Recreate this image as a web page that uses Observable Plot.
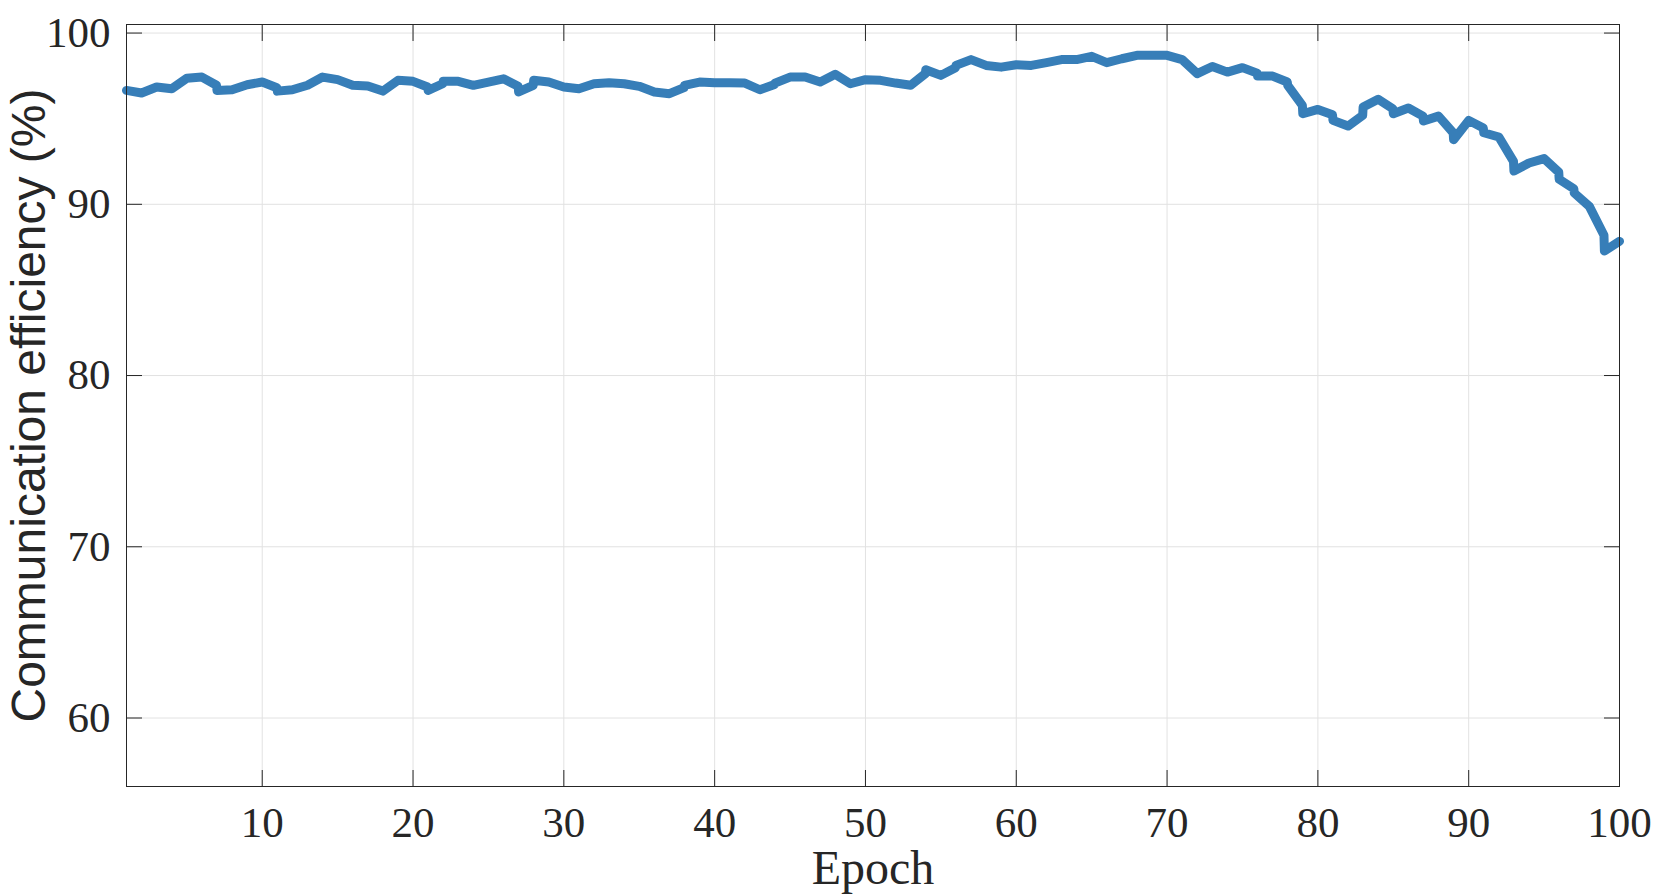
<!DOCTYPE html>
<html><head><meta charset="utf-8">
<script src="https://cdn.jsdelivr.net/npm/d3@7"></script>
<script src="https://cdn.jsdelivr.net/npm/@observablehq/plot@0.6"></script>
<style>body{margin:0;background:#fff}</style>
</head><body><div id="chart"></div>
<script>
const epochs = [1,2,3,4,5,6,6.97,7,8,9,10,10.97,11,12,13,14,15,16,17,18,19,20,20.97,21,21.97,22,23,24,25,26,26.97,27,27.97,28,29,30,31,32,33,34,35,36,37,37.97,38,39,40,41,42,43,43.97,44,45,46,47,48,49,50,51,52,53,53.97,54,55,55.97,56,57,58,59,60,61,62,63,64,65,66,67,68,69,70,71,72,73,74,75,75.97,76,77,77.97,78,78.97,79,80,80.97,81,82,82.97,83,84,84.97,85,86,86.97,87,88,88.97,89,90,90.97,91,92,92.97,93,94,95,95.97,96,96.97,97,98,98.97,99,100];
const efficiency = [96.65,96.5,96.85,96.75,97.36,97.43,96.95,96.65,96.69,96.98,97.14,96.81,96.61,96.69,96.95,97.43,97.28,96.95,96.91,96.61,97.24,97.18,96.85,96.65,97.04,97.18,97.18,96.95,97.14,97.33,96.89,96.56,96.95,97.24,97.14,96.85,96.75,97.04,97.1,97.04,96.89,96.56,96.46,96.81,96.95,97.14,97.1,97.1,97.08,96.69,97.0,97.08,97.43,97.43,97.14,97.59,97.04,97.28,97.24,97.08,96.95,97.63,97.86,97.53,97.98,98.11,98.45,98.11,98.01,98.15,98.11,98.27,98.45,98.45,98.64,98.27,98.5,98.7,98.7,98.7,98.45,97.63,98.05,97.72,97.98,97.66,97.49,97.49,97.14,96.95,95.78,95.29,95.54,95.23,94.9,94.57,95.19,95.68,96.13,95.58,95.29,95.62,95.15,94.86,95.15,94.18,93.77,94.9,94.45,94.18,93.93,92.51,91.94,92.41,92.67,91.88,91.46,90.91,90.66,89.88,88.19,87.27,87.84];
const xTicks = [10,20,30,40,50,60,70,80,90,100];
const yTicks = [60,70,80,90,100];

const data = epochs.map((e, i) => ({epoch: e, value: efficiency[i]}));
const ink = "#262626";
const serif = "'Liberation Serif', 'DejaVu Serif', serif";
const sans = "'Liberation Sans', Arial, sans-serif";

const chart = Plot.plot({
  width: 1661, height: 896,
  marginLeft: 126, marginRight: 42, marginTop: 24, marginBottom: 110,
  x: {domain: [1, 100]},
  y: {domain: [56, 100.5]},
  style: {background: "#fff", color: ink, overflow: "visible"},
  marks: [
    Plot.gridX(xTicks, {stroke: "#e2e2e2", strokeOpacity: 1}),
    Plot.gridY(yTicks, {stroke: "#e2e2e2", strokeOpacity: 1}),
    Plot.line(data, {x: "epoch", y: "value", stroke: "#377eb8", strokeWidth: 9, strokeLinejoin: "round"}),
    Plot.frame({stroke: ink}),
    Plot.axisX(xTicks, {anchor: "bottom", tickSize: -16, fill: "none", stroke: ink}),
    Plot.axisX(xTicks, {anchor: "top", tickSize: -16, fill: "none", stroke: ink}),
    Plot.axisY(yTicks, {anchor: "left", tickSize: -16, fill: "none", stroke: ink}),
    Plot.axisY(yTicks, {anchor: "right", tickSize: -16, fill: "none", stroke: ink}),
    Plot.axisX(xTicks, {anchor: "bottom", tickSize: 0, tickPadding: 20, fontSize: 43, fontFamily: serif, label: null, fill: ink}),
    Plot.axisY(yTicks, {anchor: "left", tickSize: 0, tickPadding: 16, fontSize: 43, fontFamily: serif, label: null, fill: ink}),
    Plot.axisX([], {anchor: "bottom", tickSize: 0, label: "Epoch", labelAnchor: "center", labelArrow: "none", labelOffset: 97, fontSize: 48, fontFamily: serif, fill: ink}),
    Plot.axisY([], {anchor: "left", tickSize: 0, label: "Communication efficiency (%)", labelAnchor: "center", labelArrow: "none", labelOffset: 116, fontSize: 48, fontFamily: sans, fill: ink})
  ]
});
document.getElementById("chart").appendChild(chart);
</script>
</body></html>
